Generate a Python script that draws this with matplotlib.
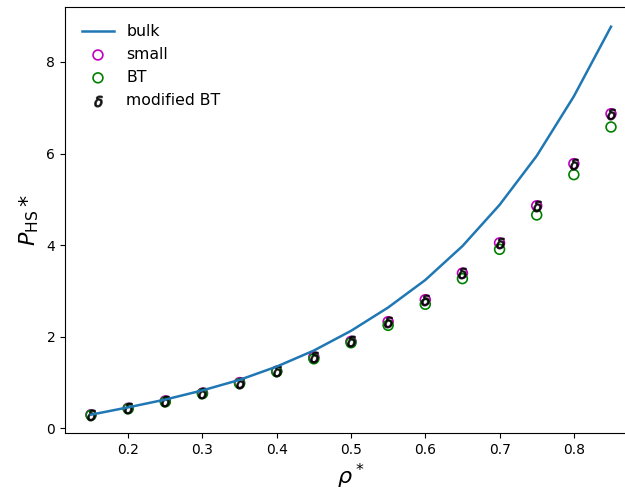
import matplotlib
matplotlib.use("Agg")
import matplotlib.pyplot as plt

rho = [0.15, 0.20, 0.25, 0.30, 0.35, 0.40, 0.45, 0.50, 0.55, 0.60, 0.65, 0.70, 0.75, 0.80, 0.85]
bulk = [0.30, 0.46, 0.63, 0.83, 1.06, 1.35, 1.70, 2.13, 2.64, 3.24, 3.98, 4.88, 5.95, 7.25, 8.77]
small = [0.30, 0.44, 0.60, 0.77, 1.00, 1.25, 1.56, 1.90, 2.33, 2.81, 3.39, 4.05, 4.86, 5.78, 6.87]
bt = [0.29, 0.43, 0.58, 0.76, 0.98, 1.24, 1.52, 1.87, 2.25, 2.71, 3.27, 3.91, 4.66, 5.54, 6.58]
mod_bt = [0.30, 0.44, 0.60, 0.77, 1.00, 1.25, 1.56, 1.90, 2.33, 2.81, 3.39, 4.05, 4.86, 5.78, 6.87]

fig = plt.figure(figsize=(6.25, 4.98), dpi=100)
ax = fig.add_axes([65/625, 65/498, 572/625, 426/498])

ax.plot(rho, bulk, color='#1f77b4', lw=1.8, label='bulk')
ax.scatter(rho, small, s=50, facecolors='none', edgecolors='m', linewidths=1.2, label='small')
ax.scatter(rho, bt, s=50, facecolors='none', edgecolors='g', linewidths=1.2, label='BT')
ax.scatter(rho, mod_bt, s=60, marker=r'$\delta$', color='k', alpha=0.75, label='modified BT')

ax.set_xlim(0.115, 0.885)
ax.set_ylim(-0.10, 9.20)
ax.set_xticks([0.2, 0.3, 0.4, 0.5, 0.6, 0.7, 0.8])
ax.set_yticks([0, 2, 4, 6, 8])
ax.set_xlabel(r'$\rho^*$', fontsize=16)
ax.set_ylabel(r'$P_{\rm HS}*$', fontsize=16)
ax.legend(loc='upper left', frameon=False, fontsize=11.3, borderaxespad=0.7)

fig.savefig('out.png', dpi=100)
